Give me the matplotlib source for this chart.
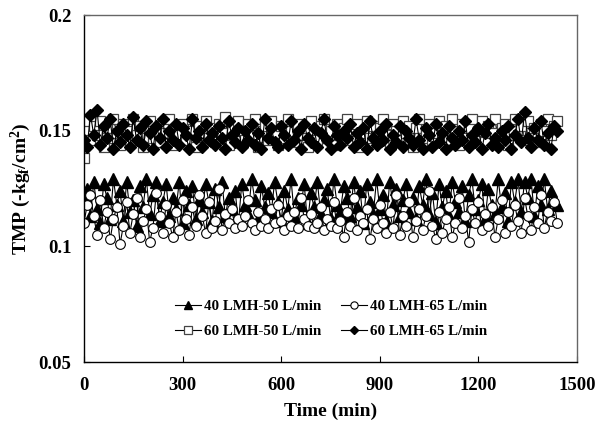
import numpy as np
import matplotlib
matplotlib.use("Agg")
import matplotlib.pyplot as plt

plt.rcParams['font.family'] = ['Liberation Serif', 'DejaVu Serif']
plt.rcParams['font.weight'] = 'bold'
plt.rcParams['mathtext.fontset'] = 'custom'
plt.rcParams['mathtext.rm'] = 'Liberation Serif:bold'
plt.rcParams['mathtext.bf'] = 'Liberation Serif:bold'
plt.rcParams['mathtext.default'] = 'bf'

# time axis, sampled every 10 min
time_min = list(range(0, 1450, 10))

tri_40_50 = [
    0.120, 0.125, 0.113, 0.128, 0.116, 0.110, 0.127, 0.121, 0.112, 0.129,
    0.118, 0.124, 0.111, 0.128, 0.115, 0.120, 0.109, 0.126, 0.117, 0.129,
    0.114, 0.122, 0.128, 0.111, 0.119, 0.127, 0.113, 0.121, 0.116, 0.128,
    0.110, 0.124, 0.118, 0.126, 0.112, 0.120, 0.115, 0.127, 0.119, 0.111,
    0.125, 0.117, 0.128, 0.113, 0.121, 0.116, 0.124, 0.110, 0.127, 0.118,
    0.114, 0.129, 0.120, 0.112, 0.126, 0.117, 0.123, 0.115, 0.128, 0.119,
    0.111, 0.124, 0.116, 0.129, 0.113, 0.121, 0.118, 0.127, 0.110, 0.123,
    0.117, 0.128, 0.114, 0.120, 0.125, 0.112, 0.129, 0.118, 0.115, 0.126,
    0.121, 0.113, 0.128, 0.117, 0.124, 0.110, 0.127, 0.119, 0.114, 0.129,
    0.116, 0.122, 0.111, 0.128, 0.118, 0.125, 0.113, 0.120, 0.127, 0.115,
    0.121, 0.112, 0.126, 0.118, 0.129, 0.114, 0.123, 0.110, 0.127, 0.117,
    0.124, 0.113, 0.128, 0.119, 0.115, 0.126, 0.111, 0.122, 0.129, 0.116,
    0.120, 0.127, 0.112, 0.125, 0.118, 0.114, 0.129, 0.117, 0.123, 0.111,
    0.128, 0.119, 0.129, 0.115, 0.128, 0.121, 0.129, 0.113, 0.126, 0.118,
    0.129, 0.116, 0.124, 0.120, 0.118,
]

circ_40_65 = [
    0.110, 0.118, 0.122, 0.113, 0.105, 0.120, 0.108, 0.115, 0.103, 0.112,
    0.117, 0.101, 0.109, 0.119, 0.106, 0.114, 0.121, 0.104, 0.111, 0.116,
    0.102, 0.108, 0.123, 0.113, 0.106, 0.118, 0.110, 0.104, 0.115, 0.107,
    0.120, 0.112, 0.105, 0.117, 0.109, 0.122, 0.113, 0.106, 0.119, 0.108,
    0.111, 0.125, 0.107, 0.114, 0.110, 0.116, 0.108, 0.112, 0.109, 0.113,
    0.120, 0.110, 0.107, 0.115, 0.109, 0.112, 0.108, 0.116, 0.110, 0.118,
    0.111, 0.107, 0.113, 0.109, 0.115, 0.108, 0.121, 0.112, 0.109, 0.114,
    0.108, 0.110, 0.117, 0.107, 0.112, 0.109, 0.119, 0.108, 0.111, 0.104,
    0.115, 0.109, 0.121, 0.107, 0.113, 0.110, 0.116, 0.103, 0.112, 0.108,
    0.118, 0.110, 0.106, 0.115, 0.108, 0.122, 0.105, 0.113, 0.109, 0.119,
    0.104, 0.111, 0.116, 0.107, 0.113, 0.124, 0.109, 0.103, 0.115, 0.106,
    0.112, 0.117, 0.104, 0.110, 0.121, 0.108, 0.113, 0.102, 0.116, 0.110,
    0.119, 0.107, 0.114, 0.109, 0.117, 0.104, 0.112, 0.120, 0.106, 0.115,
    0.109, 0.118, 0.111, 0.106, 0.121, 0.113, 0.107, 0.117, 0.110, 0.122,
    0.108, 0.115, 0.111, 0.119, 0.110,
]

sq_60_50 = [
    0.138, 0.150, 0.146, 0.152, 0.148, 0.154, 0.143, 0.151, 0.147, 0.155,
    0.149, 0.144, 0.153, 0.150, 0.146, 0.155, 0.148, 0.152, 0.143, 0.151,
    0.154, 0.147, 0.150, 0.145, 0.153, 0.149, 0.155, 0.144, 0.151, 0.148,
    0.153, 0.146, 0.150, 0.155, 0.143, 0.152, 0.148, 0.154, 0.147, 0.151,
    0.145, 0.153, 0.149, 0.156, 0.144, 0.151, 0.147, 0.154, 0.150, 0.146,
    0.153, 0.148, 0.155, 0.143, 0.150, 0.152, 0.146, 0.154, 0.149, 0.144,
    0.152, 0.147, 0.155, 0.150, 0.145, 0.153, 0.148, 0.151, 0.143, 0.154,
    0.149, 0.146, 0.152, 0.155, 0.147, 0.150, 0.144, 0.153, 0.148, 0.151,
    0.155, 0.146, 0.150, 0.153, 0.143, 0.149, 0.154, 0.147, 0.152, 0.145,
    0.151, 0.155, 0.148, 0.144, 0.153, 0.150, 0.146, 0.154, 0.149, 0.152,
    0.143, 0.151, 0.155, 0.147, 0.150, 0.153, 0.145, 0.149, 0.154, 0.148,
    0.152, 0.146, 0.155, 0.150, 0.144, 0.153, 0.148, 0.151, 0.155, 0.147,
    0.150, 0.154, 0.145, 0.152, 0.149, 0.155, 0.146, 0.151, 0.153, 0.144,
    0.150, 0.155, 0.148, 0.152, 0.146, 0.154, 0.149, 0.151, 0.145, 0.153,
    0.150, 0.155, 0.148, 0.152, 0.154,
]

dia_60_65 = [
    0.146, 0.143, 0.157, 0.148, 0.159, 0.144, 0.152, 0.147, 0.155, 0.142,
    0.150, 0.145, 0.153, 0.148, 0.143, 0.156, 0.146, 0.151, 0.144, 0.154,
    0.149, 0.142, 0.152, 0.147, 0.155, 0.143, 0.150, 0.146, 0.153, 0.144,
    0.151, 0.148, 0.142, 0.155, 0.147, 0.150, 0.143, 0.153, 0.146, 0.149,
    0.144, 0.152, 0.147, 0.142, 0.154, 0.148, 0.145, 0.151, 0.143, 0.150,
    0.146, 0.153, 0.144, 0.149, 0.142, 0.155, 0.147, 0.151, 0.145, 0.143,
    0.152, 0.148, 0.144, 0.154, 0.146, 0.150, 0.142, 0.153, 0.147, 0.145,
    0.151, 0.143, 0.149, 0.155, 0.146, 0.142, 0.152, 0.148, 0.144, 0.150,
    0.147, 0.153, 0.143, 0.149, 0.145, 0.151, 0.142, 0.154, 0.147, 0.144,
    0.150, 0.146, 0.153, 0.142, 0.148, 0.145, 0.152, 0.143, 0.150, 0.147,
    0.144, 0.155, 0.146, 0.142, 0.151, 0.148, 0.143, 0.153, 0.145, 0.149,
    0.142, 0.152, 0.147, 0.144, 0.150, 0.146, 0.154, 0.143, 0.148, 0.145,
    0.151, 0.142, 0.149, 0.153, 0.144, 0.147, 0.143, 0.150, 0.146, 0.152,
    0.142, 0.148, 0.155, 0.145, 0.158, 0.147, 0.143, 0.151, 0.146, 0.154,
    0.144, 0.149, 0.142, 0.152, 0.150,
]

labels = ['40 LMH-50 L/min', '40 LMH-65 L/min', '60 LMH-50 L/min', '60 LMH-65 L/min']

fig = plt.figure(figsize=(5.95, 4.29), dpi=100)
ax = fig.add_axes([0.141, 0.156, 0.829, 0.809])

lw = 0.8
h1, = ax.plot(time_min, tri_40_50, '-^', color='black', lw=lw, ms=8.5,
              mfc='black', mec='black', label=labels[0])
h2, = ax.plot(time_min, circ_40_65, '-o', color='black', lw=lw, ms=7,
              mfc='white', mec='black', mew=0.8, label=labels[1])
h3, = ax.plot(time_min, sq_60_50, '-s', color='black', lw=lw, ms=7,
              mfc='white', mec='#444444', mew=0.9, label=labels[2])
h4, = ax.plot(time_min, dia_60_65, '-D', color='black', lw=lw, ms=6,
              mfc='black', mec='black', label=labels[3])

ax.set_xlim(0, 1500)
ax.set_ylim(0.05, 0.2)
ax.set_xticks([0, 300, 600, 900, 1200, 1500])
ax.set_yticks([0.05, 0.1, 0.15, 0.2])
ax.set_yticklabels(['0.05', '0.1', '0.15', '0.2'])
ax.tick_params(direction='in', length=4, width=0.8, labelsize=13.5,
               top=False, right=False)
ax.tick_params(axis='y', pad=9)
ax.tick_params(axis='x', pad=11)
for lab in ax.get_xticklabels() + ax.get_yticklabels():
    lab.set_fontweight('bold')
for s in ['top', 'right']:
    ax.spines[s].set_color('#666666')
for s in ax.spines.values():
    s.set_linewidth(1.0)

ax.set_xlabel('Time (min)', fontsize=14, fontweight='bold', labelpad=6)
ax.set_ylabel(r'TMP (-kg$_{f}$/cm$^{2}$)', fontsize=14,
              fontweight='bold', labelpad=4)

# row-wise legend: 40-50, 40-65 / 60-50, 60-65
ax.legend([h1, h3, h2, h4], [labels[0], labels[2], labels[1], labels[3]],
          loc='upper left', bbox_to_anchor=(0.185, 0.18), ncol=2,
          frameon=False, handlelength=1.75, handletextpad=0.2,
          columnspacing=1.3, labelspacing=0.75, markerscale=0.75,
          borderpad=0.0, borderaxespad=0.0,
          prop={'weight': 'bold', 'size': 10.8})

fig.savefig('out.png', dpi=100)
